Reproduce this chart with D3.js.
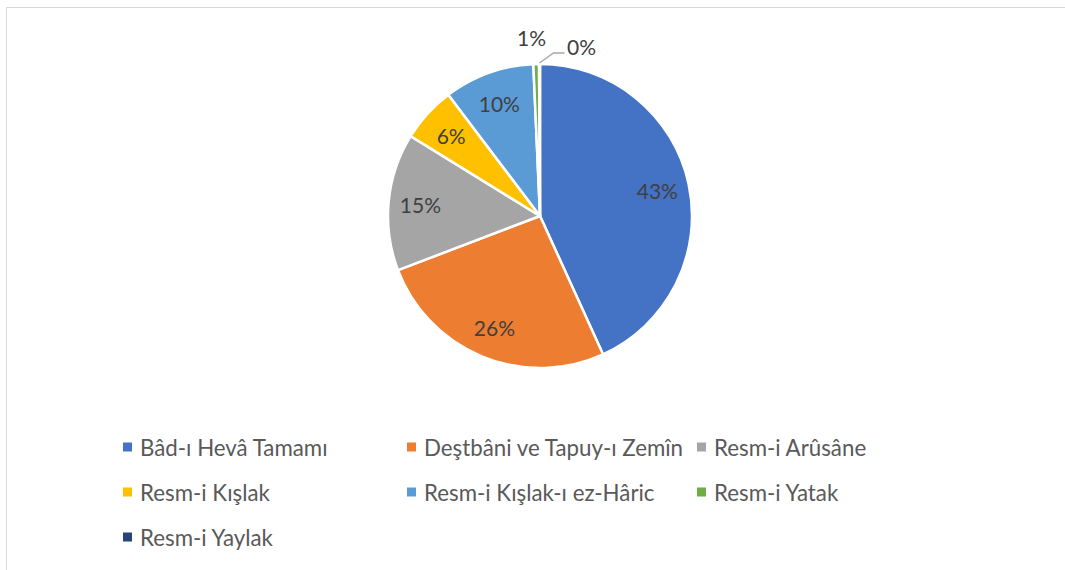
<!DOCTYPE html>
<html>
<head>
<meta charset="utf-8">
<script src="https://cdn.jsdelivr.net/npm/d3@7/dist/d3.min.js"></script>
<style>
  html, body { margin: 0; padding: 0; background: #fff; }
  svg { display: block; }
  text { font-family: Lato, "Open Sans", sans-serif; }
</style>
</head>
<body>
<div id="chart"></div>
<script>
// Revenue shares by item
const categories = [
  "Bâd-ı Hevâ Tamamı",
  "Deştbâni ve Tapuy-ı Zemîn",
  "Resm-i Arûsâne",
  "Resm-i Kışlak",
  "Resm-i Kışlak-ı ez-Hâric",
  "Resm-i Yatak",
  "Resm-i Yaylak"
];
const shares = [43.2, 26.0, 14.6, 5.9, 9.6, 0.6, 0.1];
const colors = ["#4472C4", "#ED7D31", "#A5A5A5", "#FFC000", "#5B9BD5", "#70AD47", "#264478"];

const W = 1065, H = 570;
const cx = 540, cy = 216, R = 152;

const svg = d3.select("#chart").append("svg")
  .attr("width", W).attr("height", H);

// chart frame (top and left edges visible)
svg.append("line").attr("x1", 6.5).attr("y1", 7.5).attr("x2", W).attr("y2", 7.5)
  .attr("stroke", "#d9d9d9").attr("stroke-width", 1);
svg.append("line").attr("x1", 6.5).attr("y1", 7.5).attr("x2", 6.5).attr("y2", H)
  .attr("stroke", "#d9d9d9").attr("stroke-width", 1);

const total = d3.sum(shares);
const data = categories.map((c, i) => ({ name: c, value: shares[i], color: colors[i] }));

const pie = d3.pie().value(d => d.value).sort(null);
const arcs = pie(data);
const arc = d3.arc().innerRadius(0).outerRadius(R);

const g = svg.append("g").attr("transform", `translate(${cx},${cy})`);

g.selectAll("path.slice").data(arcs).enter().append("path")
  .attr("class", "slice")
  .attr("d", arc)
  .attr("fill", d => d.data.color)
  .attr("stroke", "#fff")
  .attr("stroke-width", 2.5)
  .attr("stroke-linejoin", "round");

const pct = d => Math.round(d.data.value / total * 100) + "%";
const mid = d => (d.startAngle + d.endAngle) / 2;
const polar = (a, r) => [Math.sin(a) * r, -Math.cos(a) * r];
const labelSize = 21;

// labels inside the larger slices
const labelR = R * 0.79;
arcs.forEach((d, i) => {
  const frac = d.data.value / total;
  if (frac >= 0.03) {
    const [x, y] = polar(mid(d), labelR);
    g.append("text")
      .attr("x", x).attr("y", y)
      .attr("text-anchor", "middle").attr("dominant-baseline", "central")
      .attr("font-size", labelSize).attr("fill", "#404040")
      .text(pct(d));
  }
});

// outside labels for the thin slivers
const sliver1 = arcs[5];
{
  const [x, y] = polar(mid(sliver1), R + 28);
  g.append("text")
    .attr("x", x - 4).attr("y", y + 1)
    .attr("text-anchor", "middle").attr("dominant-baseline", "central")
    .attr("font-size", labelSize).attr("fill", "#404040")
    .text(pct(sliver1));
}
const sliver2 = arcs[6];
{
  const [sx, sy] = polar(mid(sliver2), R + 1);
  const ex = sx + 14, ey = sy - 10;
  g.append("polyline")
    .attr("points", [[sx, sy], [ex, ey], [ex + 11, ey]].map(p => p.join(",")).join(" "))
    .attr("fill", "none").attr("stroke", "#a6a6a6").attr("stroke-width", 1.3);
  g.append("text")
    .attr("x", ex + 28).attr("y", ey - 7)
    .attr("text-anchor", "middle").attr("dominant-baseline", "central")
    .attr("font-size", labelSize).attr("fill", "#404040")
    .text(pct(sliver2));
}

// legend: three columns, wrapping rows
const colX = [123, 407, 697];
const rowY = [447, 492, 537];
const leg = svg.append("g");
data.forEach((d, i) => {
  const x = colX[i % 3], y = rowY[Math.floor(i / 3)];
  leg.append("rect")
    .attr("x", x).attr("y", y - 4.5).attr("width", 9).attr("height", 9)
    .attr("fill", d.color);
  leg.append("text")
    .attr("x", x + 17).attr("y", y)
    .attr("dominant-baseline", "central")
    .attr("font-size", 22.3).attr("fill", "#595959")
    .text(d.name);
});
</script>
</body>
</html>
